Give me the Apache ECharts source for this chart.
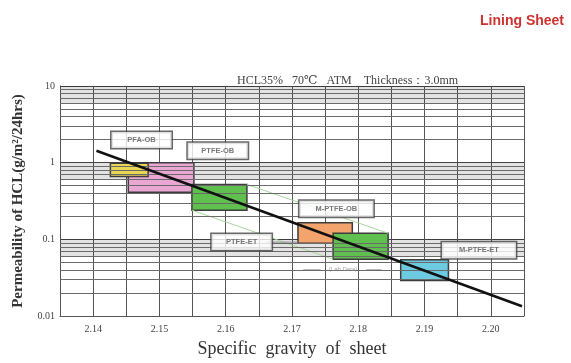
<!DOCTYPE html>
<html>
<head>
<meta charset="utf-8">
<script src="https://cdn.jsdelivr.net/npm/echarts@6/dist/echarts.min.js"></script>
<style>
html,body{margin:0;padding:0;background:#fff;}
#chart{width:571px;height:363px;}
</style>
</head>
<body>
<div id="chart"></div>
<script>
// ---- data ----
const xTickMin = 2.135;
const xTickMax = 2.205;
const yMin = 0.01;
const yMax = 10;
const minorYValues = [0.02,0.03,0.04,0.05,0.06,0.07,0.08,0.09,0.2,0.3,0.4,0.5,0.6,0.7,0.8,0.9,2,3,4,5,6,7,8,9];
const shadeBandLow = [6, 0.6, 0.06];
const shadeBandHigh = [10, 1, 0.1];

// boxes (drawing order)
const boxIds   = ['PTFE-OB', 'PFA-OB', 'PTFE-OB-b', 'M-PTFE-OB', 'PTFE-ET-b', 'M-PTFE-ET'];
const boxXMin  = [2.1453, 2.1426, 2.1549, 2.1709, 2.1762, 2.1864];
const boxXMax  = [2.1552, 2.1483, 2.1632, 2.1791, 2.1845, 2.1936];
const boxYMin  = [0.41, 0.66, 0.24, 0.089, 0.055, 0.029];
const boxYMax  = [1.0, 0.98, 0.52, 0.165, 0.12, 0.054];

// trend line
const trendX = [2.1405, 2.2047];
const trendY = [1.43, 0.0134];

// connector lines between green boxes
const connTopX = [2.1632, 2.1845];
const connTopY = [0.52, 0.12];
const connBotX = [2.1549, 2.1762];
const connBotY = [0.24, 0.055];

// PTFE-ET leader line
const leaderX = [2.1662, 2.1709];
const leaderY = [0.092, 0.092];

// label boxes
const labelNames = ['PFA-OB', 'PTFE-OB', 'M-PTFE-OB', 'PTFE-ET', 'M-PTFE-ET'];
const labelX = [2.1473, 2.1588, 2.1767, 2.1624, 2.1982];
const labelY = [1.97, 1.43, 0.25, 0.092, 0.072];

// small note
const noteText = '(Lab.Data)';
const noteX = 2.1777;
const noteY = 0.040;
const noteLineLeftX = [2.1717, 2.1743];
const noteLineRightX = [2.1812, 2.1835];

// ---- style ----
const boxColors = ['#eaa7d4', '#e9d655', '#5fc050', '#f2a46c', '#5fc050', '#6ccbe0'];
const serif = '"Liberation Serif","DejaVu Serif",serif';
const sans = '"Liberation Sans","DejaVu Sans",sans-serif';

const chart = echarts.init(document.getElementById('chart'), null, {renderer: 'canvas'});

const boxData = boxIds.map((id, i) => [boxXMin[i], boxXMax[i], boxYMin[i], boxYMax[i], i]);

const option = {
  backgroundColor: '#fff',
  animation: false,
  title: [
    {text: 'Lining Sheet', right: 2, top: 9,
     textStyle: {fontFamily: sans, fontWeight: 'bold', fontSize: 14, color: '#cc3330'}},
    {text: 'HCL35%   70\u2103   ATM    Thickness\uFF1A3.0mm', left: 232, top: 70,
     textStyle: {fontFamily: serif, fontWeight: 'normal', fontSize: 12, color: '#444'}}
  ],
  grid: {left: 60, right: 47, top: 86, bottom: 43},
  xAxis: {
    type: 'value', min: xTickMin, max: xTickMax, interval: 0.005,
    name: 'Specific  gravity  of  sheet', nameLocation: 'middle', nameGap: 24,
    nameTextStyle: {fontFamily: serif, fontSize: 18, color: '#333'},
    axisLine: {show: true, lineStyle: {color: '#555', width: 1}},
    axisTick: {show: false},
    axisLabel: {
      fontFamily: serif, fontSize: 10, color: '#444', margin: 8,
      formatter: v => (Math.round(v * 1000) % 10 === 0 ? v.toFixed(2) : '')
    },
    splitLine: {show: true, lineStyle: {color: '#555', width: 1}}
  },
  yAxis: {
    type: 'log', logBase: 10, min: yMin, max: yMax,
    name: 'Permeability of HCL(g/m\u00B2/24hrs)', nameLocation: 'middle', nameGap: 34, nameRotate: 90,
    nameTextStyle: {fontFamily: serif, fontSize: 15, fontWeight: 'bold', color: '#333'},
    axisLine: {show: true, lineStyle: {color: '#555', width: 1}},
    axisTick: {show: false},
    axisLabel: {fontFamily: serif, fontSize: 10, color: '#444', margin: 5,
      formatter: v => String(+(+v).toPrecision(2))},
    splitLine: {show: true, lineStyle: {color: '#444', width: 1.2}}
  },
  series: [
    {
      type: 'line', data: [], silent: true,
      markArea: {
        silent: true,
        itemStyle: {color: 'rgba(0,0,0,0.11)'},
        data: shadeBandLow.map((lo, i) => [{yAxis: lo}, {yAxis: shadeBandHigh[i]}])
      },
      markLine: {
        silent: true, symbol: 'none', label: {show: false},
        lineStyle: {color: '#6a6a6a', width: 1, type: 'solid'},
        data: minorYValues.map(v => ({yAxis: v}))
      }
    },
    {
      type: 'line', silent: true, symbol: 'none',
      lineStyle: {color: '#a8d89a', width: 1},
      data: connTopX.map((x, i) => [x, connTopY[i]])
    },
    {
      type: 'line', silent: true, symbol: 'none',
      lineStyle: {color: '#a8d89a', width: 1},
      data: connBotX.map((x, i) => [x, connBotY[i]])
    },
    {
      type: 'line', silent: true, symbol: 'none',
      lineStyle: {color: '#888', width: 1},
      data: leaderX.map((x, i) => [x, leaderY[i]])
    },
    {
      type: 'line', silent: true, symbol: 'none',
      lineStyle: {color: '#999', width: 1},
      data: noteLineLeftX.map(x => [x, noteY])
    },
    {
      type: 'line', silent: true, symbol: 'none',
      lineStyle: {color: '#999', width: 1},
      data: noteLineRightX.map(x => [x, noteY])
    },
    {
      type: 'custom', silent: true,
      encode: {x: [0, 1], y: [2, 3]},
      data: boxData,
      renderItem: (params, api) => {
        const p0 = api.coord([api.value(0), api.value(3)]);
        const p1 = api.coord([api.value(1), api.value(2)]);
        return {
          type: 'rect',
          shape: {x: p0[0], y: p0[1], width: p1[0] - p0[0], height: p1[1] - p0[1]},
          style: {fill: boxColors[api.value(4)], stroke: '#3d3d3d', lineWidth: 1.5}
        };
      }
    },
    {
      type: 'line', silent: true, symbol: 'none',
      lineStyle: {color: '#111', width: 2.5},
      data: trendX.map((x, i) => [x, trendY[i]]),
      z: 5
    },
    {
      type: 'scatter', silent: true, symbolSize: 0, z: 6,
      data: labelNames.map((n, i) => ({
        name: n, value: [labelX[i], labelY[i]],
        label: {width: n.indexOf('M-') === 0 ? 74 : 60}
      })),
      label: {
        show: true, position: 'inside',
        formatter: p => p.name,
        fontFamily: sans, fontWeight: 'bold', fontSize: 7.5, color: '#555',
        backgroundColor: '#fff', borderColor: '#444', borderWidth: 1.5,
        padding: [3, 0, 2, 0], align: 'center', verticalAlign: 'middle',
        width: 60, height: 11, lineHeight: 11
      }
    },
    {
      type: 'scatter', silent: true, symbolSize: 0, z: 6,
      data: [{name: noteText, value: [noteX, noteY]}],
      label: {show: true, position: 'inside', formatter: p => p.name,
        fontFamily: sans, fontSize: 6, color: '#888'}
    }
  ]
};
chart.setOption(option);
</script>
</body>
</html>
